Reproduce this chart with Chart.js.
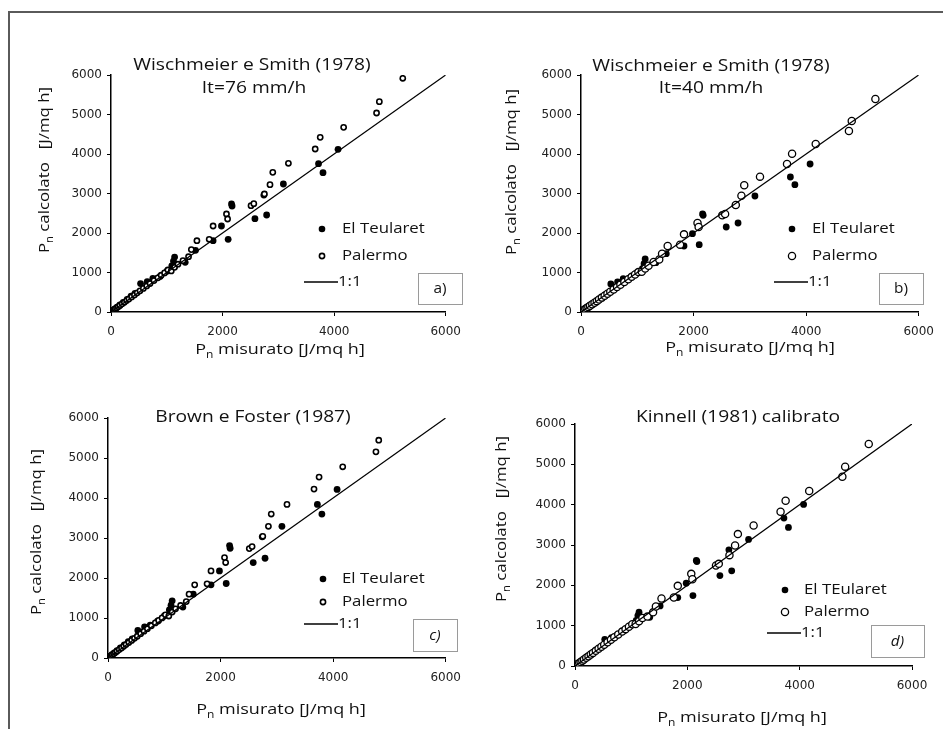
<!DOCTYPE html>
<html>
<head>
    <title>Pn calcolato vs Pn misurato</title>
    <script src="https://cdn.jsdelivr.net/npm/chart.js@4.4.0/dist/chart.umd.min.js"></script>
    <style>
        html, body {
            margin: 0;
            padding: 0;
            background: #fff;
            overflow: hidden;
        }
        #frame {
            position: absolute;
            left: 8px;
            top: 11px;
            width: 1000px;
            height: 800px;
            border-top: 2px solid #5a5a5a;
            border-left: 2px solid #5a5a5a;
        }
        .panel {
            position: absolute;
        }
    </style>
</head>
<body>
    <div id="frame"></div>
    <div class="panel" style="left:0px;top:0px"><canvas id="chartA" width="470" height="370"></canvas></div>
    <div class="panel" style="left:470px;top:0px"><canvas id="chartB" width="473" height="370"></canvas></div>
    <div class="panel" style="left:0px;top:370px"><canvas id="chartC" width="470" height="359"></canvas></div>
    <div class="panel" style="left:470px;top:370px"><canvas id="chartD" width="473" height="359"></canvas></div>

    <script>
        // measured Pn [J/mq h], El Teularet events
        const teularetX = [15, 40, 70, 110, 160, 220, 290, 360, 430, 530, 650, 750, 880, 1000, 1090, 1120, 1140, 1330, 1515, 1830, 1980, 2100, 2160, 2170, 2580, 2740, 2790, 3090, 3720, 3800, 4070];
        // calculated Pn, one list per panel
        const teularetA = [18, 45, 80, 125, 180, 245, 320, 400, 470, 720, 770, 850, 900, 1030, 1165, 1290, 1390, 1257, 1561, 1806, 2177, 1840, 2734, 2684, 2363, 2960, 2456, 3240, 3755, 3527, 4118];
        const teularetB = [15, 40, 72, 112, 165, 225, 295, 370, 440, 709, 760, 844, 880, 1000, 1100, 1224, 1342, 1250, 1477, 1671, 1983, 1705, 2481, 2450, 2152, 2700, 2253, 2937, 3418, 3224, 3747];
        const teularetC = [18, 46, 82, 128, 185, 250, 330, 410, 480, 690, 780, 823, 920, 1050, 1200, 1320, 1430, 1272, 1596, 1829, 2178, 1862, 2810, 2744, 2386, 3030, 2494, 3292, 3840, 3599, 4214];
        const teularetD = [15, 42, 75, 115, 168, 230, 300, 375, 445, 662, 700, 770, 880, 1010, 1130, 1250, 1333, 1209, 1490, 1697, 2053, 1747, 2616, 2591, 2243, 2881, 2359, 3137, 3667, 3435, 4007];

        // measured Pn, Palermo events
        const palermoX = [10, 30, 50, 75, 100, 130, 160, 200, 240, 280, 320, 370, 420, 470, 520, 580, 640, 700, 770, 840, 900, 960, 1020, 1080, 1140, 1200, 1290, 1390, 1440, 1540, 1760, 1830, 2070, 2090, 2510, 2560, 2750, 2850, 2900, 3180, 3660, 3750, 4170, 4760, 4810, 5230];
        const palermoA = [10, 32, 52, 78, 104, 134, 165, 206, 246, 290, 330, 382, 432, 485, 535, 598, 660, 720, 795, 865, 930, 990, 1063, 1040, 1130, 1210, 1300, 1400, 1580, 1805, 1840, 2177, 2481, 2354, 2692, 2743, 2987, 3224, 3536, 3764, 4127, 4422, 4675, 5038, 5325, 5916];
        const palermoB = [10, 30, 50, 74, 99, 128, 158, 197, 236, 275, 315, 364, 413, 462, 511, 570, 630, 690, 758, 828, 890, 948, 1010, 1020, 1100, 1170, 1266, 1330, 1477, 1671, 1705, 1966, 2253, 2152, 2447, 2481, 2709, 2945, 3207, 3426, 3747, 4008, 4253, 4582, 4835, 5392];
        const palermoC = [10, 32, 53, 79, 105, 136, 168, 210, 250, 294, 336, 388, 440, 492, 544, 608, 670, 732, 806, 878, 940, 1002, 1080, 1050, 1150, 1230, 1313, 1410, 1596, 1829, 1854, 2178, 2510, 2386, 2735, 2785, 3042, 3292, 3599, 3840, 4223, 4522, 4780, 5154, 5445, null];
        const palermoD = [10, 31, 51, 76, 102, 132, 162, 203, 243, 284, 325, 376, 426, 477, 528, 589, 650, 711, 782, 853, 914, 975, 1036, 1040, 1110, 1190, 1225, 1330, 1474, 1672, 1697, 1987, 2285, 2152, 2492, 2533, 2748, 2988, 3270, 3485, 3825, 4098, 4338, 4694, 4942, 5505];

        const lineX = [0, 6000];
        const lineY = [0, 6000];
        const xTicks = [0, 2000, 4000, 6000];
        const yTicks = [0, 1000, 2000, 3000, 4000, 5000, 6000];

        const panels = [
            {
                id: 'chartA', w: 470, h: 370, area: { l: 111, t: 75, r: 449, b: 312 },
                titles: [['Wischmeier e Smith (1978)', 252, 65], ['It=76 mm/h', 254, 88]],
                yTitle: [45, 170], xTitle: [280, 350],
                legend: { dot: 322, text: 342, rows: [229, 256, 282], lineFrom: 304, lineTo: 338, names: ['El Teularet', 'Palermo', '1:1'] },
                box: { x: 418, y: 273, w: 44, h: 31, label: 'a)', italic: false },
                et: teularetA, pa: palermoA, openR: 2.6, openW: 1.6
            },
            {
                id: 'chartB', w: 473, h: 370, area: { l: 111, t: 75, r: 449, b: 312 },
                titles: [['Wischmeier e Smith (1978)', 241, 66], ['It=40 mm/h', 241, 88]],
                yTitle: [42, 172], xTitle: [280, 348],
                legend: { dot: 322, text: 342, rows: [229, 256, 282], lineFrom: 304, lineTo: 338, names: ['El Teularet', 'Palermo', '1:1'] },
                box: { x: 409, y: 273, w: 44, h: 31, label: 'b)', italic: false },
                et: teularetB, pa: palermoB, openR: 3.6, openW: 1.3
            },
            {
                id: 'chartC', w: 470, h: 359, area: { l: 108, t: 48, r: 450, b: 288 },
                titles: [['Brown e Foster (1987)', 253, 47]],
                yTitle: [37, 162], xTitle: [281, 340],
                legend: { dot: 323, text: 342, rows: [209, 232, 254], lineFrom: 304, lineTo: 338, names: ['El Teularet', 'Palermo', '1:1'] },
                box: { x: 413, y: 249, w: 44, h: 32, label: 'c)', italic: true },
                et: teularetC, pa: palermoC, openR: 2.6, openW: 1.6
            },
            {
                id: 'chartD', w: 473, h: 359, area: { l: 105, t: 54, r: 442, b: 296 },
                titles: [['Kinnell (1981) calibrato', 268, 47]],
                yTitle: [32, 149], xTitle: [272, 348],
                legend: { dot: 315, text: 334, rows: [220, 242, 263], lineFrom: 297, lineTo: 331, names: ['El TEularet', 'Palermo', '1:1'] },
                box: { x: 401, y: 255, w: 53, h: 32, label: 'd)', italic: true },
                et: teularetD, pa: palermoD, openR: 3.6, openW: 1.3
            }
        ];

        const FONT = '"Open Sans", "Liberation Sans", sans-serif';
        const TEXT = '#111';
        const Y_AXIS_W = 50;
        const X_AXIS_H = 30;

        // text in the source is a bit wider than any installed face, so stretch it a little
        function wideText(ctx, text, x, y, align, sx) {
            ctx.save();
            ctx.translate(x, y);
            ctx.scale(sx, 1);
            ctx.textAlign = align;
            ctx.fillText(text, 0, 0);
            ctx.restore();
        }

        function drawPn(ctx, rest, cx, cy, rotate, sx) {
            ctx.save();
            ctx.translate(cx, cy);
            if (rotate) ctx.rotate(-Math.PI / 2);
            ctx.scale(sx, 1);
            const big = '15px ' + FONT;
            const small = '10px ' + FONT;
            ctx.font = big;
            const wP = ctx.measureText('P').width;
            const wR = ctx.measureText(rest).width;
            ctx.font = small;
            const wn = ctx.measureText('n').width;
            let x = -(wP + wn + wR) / 2;
            ctx.fillStyle = TEXT;
            ctx.textAlign = 'left';
            ctx.textBaseline = 'middle';
            ctx.font = big;
            ctx.fillText('P', x, 0);
            x += wP;
            ctx.font = small;
            ctx.fillText('n', x, 5);
            x += wn;
            ctx.font = big;
            ctx.fillText(rest, x, 0);
            ctx.restore();
        }

        // titles, axis titles, legend and panel label drawn on top of the chart
        const panelDecor = {
            id: 'panelDecor',
            afterDraw(chart, args, p) {
                const ctx = chart.ctx;
                ctx.save();
                ctx.fillStyle = TEXT;
                ctx.textBaseline = 'middle';
                ctx.font = '16px ' + FONT;
                p.titles.forEach(t => wideText(ctx, t[0], t[1], t[2], 'center', 1.2));

                drawPn(ctx, ' calcolato   [J/mq h]', p.yTitle[0], p.yTitle[1], true, 1.12);
                drawPn(ctx, ' misurato [J/mq h]', p.xTitle[0], p.xTitle[1], false, 1.2);

                const lg = p.legend;
                ctx.fillStyle = '#000';
                ctx.strokeStyle = '#000';
                ctx.beginPath();
                ctx.arc(lg.dot, lg.rows[0], 3.3, 0, Math.PI * 2);
                ctx.fill();
                ctx.beginPath();
                ctx.arc(lg.dot, lg.rows[1], p.openR, 0, Math.PI * 2);
                ctx.lineWidth = p.openW;
                ctx.stroke();
                ctx.beginPath();
                ctx.moveTo(lg.lineFrom, lg.rows[2]);
                ctx.lineTo(lg.lineTo, lg.rows[2]);
                ctx.lineWidth = 1.3;
                ctx.stroke();
                ctx.fillStyle = TEXT;
                ctx.font = '15px ' + FONT;
                wideText(ctx, lg.names[0], lg.text, lg.rows[0], 'left', 1.12);
                wideText(ctx, lg.names[1], lg.text, lg.rows[1], 'left', 1.12);
                wideText(ctx, lg.names[2], lg.lineTo, lg.rows[2], 'left', 1.12);

                const bx = p.box;
                ctx.strokeStyle = '#9a9a9a';
                ctx.lineWidth = 1;
                ctx.strokeRect(bx.x + 0.5, bx.y + 0.5, bx.w, bx.h);
                ctx.font = (bx.italic ? 'italic ' : '') + '14px ' + FONT;
                wideText(ctx, bx.label, bx.x + bx.w / 2, bx.y + bx.h / 2 + 1, 'center', 1.1);
                ctx.restore();
            }
        };

        function points(xs, ys) {
            return xs.map((x, i) => ({ x: x, y: ys[i] })).filter(pt => pt.y !== null);
        }

        const tickFont = { family: 'DejaVu Sans', size: 12 };

        panels.forEach(p => {
            const ctx = document.getElementById(p.id).getContext('2d');
            new Chart(ctx, {
                type: 'scatter',
                data: {
                    datasets: [
                        {
                            type: 'line',
                            label: '1:1',
                            data: points(lineX, lineY),
                            borderColor: '#000',
                            borderWidth: 1.3,
                            pointRadius: 0,
                            fill: false
                        },
                        {
                            label: 'Palermo',
                            data: points(palermoX, p.pa),
                            pointRadius: p.openR,
                            pointBorderWidth: p.openW,
                            pointBackgroundColor: '#fff',
                            pointBorderColor: '#000'
                        },
                        {
                            label: 'El Teularet',
                            data: points(teularetX, p.et),
                            pointRadius: 3.4,
                            pointBorderWidth: 0,
                            pointBackgroundColor: '#000',
                            pointBorderColor: '#000'
                        }
                    ]
                },
                options: {
                    responsive: false,
                    animation: false,
                    devicePixelRatio: 1,
                    layout: {
                        padding: {
                            left: p.area.l - Y_AXIS_W,
                            top: p.area.t,
                            right: p.w - p.area.r,
                            bottom: p.h - p.area.b - X_AXIS_H
                        }
                    },
                    plugins: {
                        legend: { display: false },
                        tooltip: { enabled: false },
                        panelDecor: p
                    },
                    scales: {
                        x: {
                            type: 'linear',
                            min: 0,
                            max: 6000,
                            afterFit(scale) { scale.height = X_AXIS_H; },
                            afterBuildTicks(scale) { scale.ticks = xTicks.map(v => ({ value: v })); },
                            border: { display: true, color: '#000', width: 1.5 },
                            grid: { drawOnChartArea: false, drawTicks: true, tickLength: 4, color: '#000', lineWidth: 1 },
                            ticks: { color: '#222', font: tickFont, padding: 9, maxRotation: 0, callback: v => String(v) }
                        },
                        y: {
                            type: 'linear',
                            min: 0,
                            max: 6000,
                            afterFit(scale) { scale.width = Y_AXIS_W; },
                            afterBuildTicks(scale) { scale.ticks = yTicks.map(v => ({ value: v })); },
                            border: { display: true, color: '#000', width: 1.5 },
                            grid: { drawOnChartArea: false, drawTicks: true, tickLength: 4, color: '#000', lineWidth: 1 },
                            ticks: { color: '#222', font: tickFont, padding: 5, callback: v => String(v) }
                        }
                    }
                },
                plugins: [panelDecor]
            });
        });
    </script>
</body>
</html>
